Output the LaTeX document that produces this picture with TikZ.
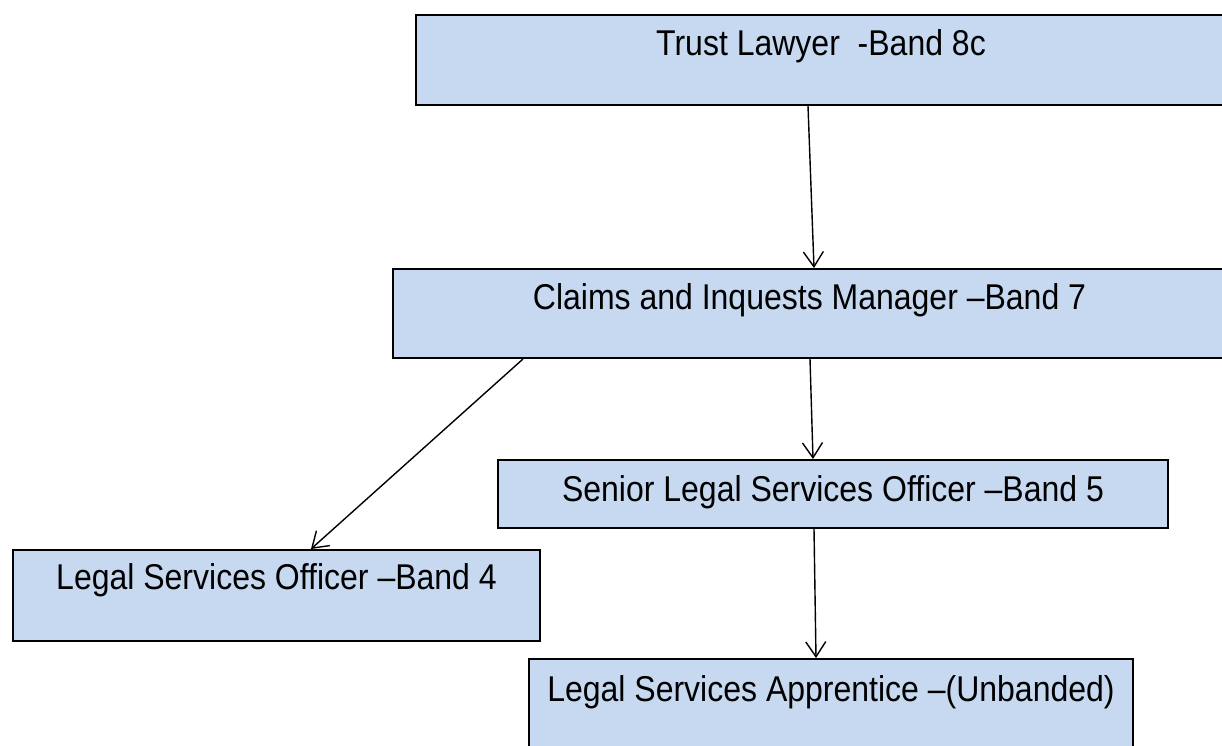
\documentclass[tikz,border=0pt]{standalone}
\usepackage{fontspec}
\setmainfont{Liberation Sans}
\usetikzlibrary{arrows.meta}

\definecolor{boxblue}{HTML}{C6D9F1}

\tikzset{
  rolebox/.style={rectangle, draw=black, line width=2pt, fill=boxblue,
    anchor=north west, inner sep=0},
  roletext/.style={font=\fontsize{32}{37}\selectfont, anchor=center, inner sep=0,
    yscale=1.12},
  link/.style={-{Straight Barb[length=15pt,width=20pt]}, line width=1.4pt}
}

\begin{document}
\begin{tikzpicture}[x=1pt, y=-1pt]
  \useasboundingbox (0,0) rectangle (1222,746);

  \node[rolebox, minimum width=810pt, minimum height=90pt] (lawyer) at (415,14) {};
  \node[roletext] (lawyer-text) at ([yshift=-32pt]lawyer.north) {Trust Lawyer~~-Band 8c};

  \node[rolebox, minimum width=833pt, minimum height=89pt] (manager) at (392,268) {};
  \node[roletext] (manager-text) at ([yshift=-32pt]manager.north) {Claims and Inquests Manager –Band 7};

  \node[rolebox, minimum width=670pt, minimum height=68pt] (senior) at (497,459) {};
  \node[roletext] (senior-text) at ([yshift=-33pt]senior.north) {Senior Legal Services Officer –Band 5};

  \node[rolebox, minimum width=527pt, minimum height=91pt] (officer) at (12,549) {};
  \node[roletext] (officer-text) at ([yshift=-31pt]officer.north) {Legal Services Officer –Band 4};

  \node[rolebox, minimum width=604pt, minimum height=100pt] (apprentice) at (528,658) {};
  \node[roletext] (apprentice-text) at ([yshift=-34pt]apprentice.north) {Legal Services Apprentice –(Unbanded)};

  \draw[link] ([xshift=-13pt]lawyer.south) -- ([xshift=4.5pt]manager.north);
  \draw[link] ([xshift=0.5pt]manager.south) -- ([xshift=-20pt]senior.north);
  \draw[link] ([xshift=131pt]manager.south west) -- ([xshift=34.5pt]officer.north);
  \draw[link] ([xshift=-19pt]senior.south) -- ([xshift=-15pt]apprentice.north);
\end{tikzpicture}
\end{document}
